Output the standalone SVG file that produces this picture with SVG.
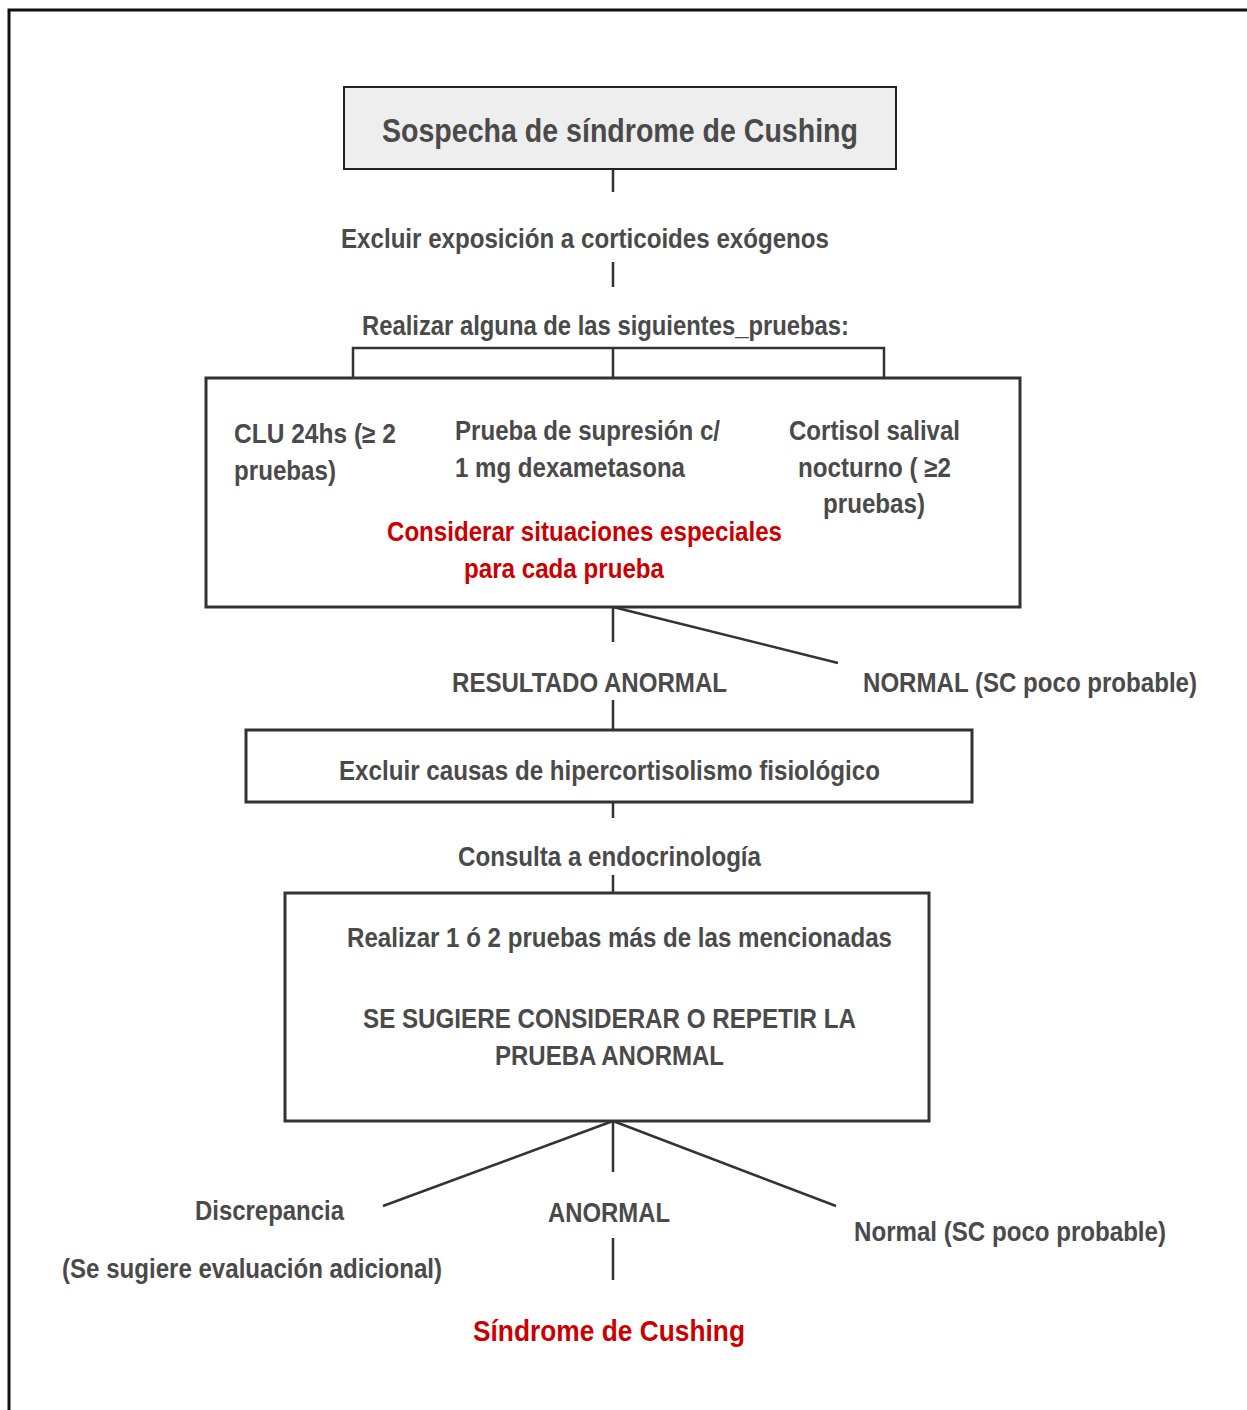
<svg xmlns="http://www.w3.org/2000/svg" width="1247" height="1410" viewBox="0 0 1247 1410">
<style>
text{font-family:"Liberation Sans",Arial,sans-serif;fill:#4a4a4a;font-weight:bold}
.t{font-size:27px}
.r{fill:#cc0000}
.box{fill:#fff;stroke:#333;stroke-width:3}
.ln{stroke:#333;stroke-width:2.5;fill:none}
</style>
<rect x="0" y="0" width="1247" height="1410" fill="#fff"/>
<path d="M9,1410 V10 H1247" fill="none" stroke="#111" stroke-width="3"/>
<g id="connectors">
<line class="ln" x1="613" y1="169" x2="613" y2="192"/>
<line class="ln" x1="613" y1="262" x2="613" y2="287"/>
<path class="ln" d="M353,378 V348 H884 V378 M613,348 V378"/>
<line class="ln" x1="613" y1="607" x2="613" y2="642"/>
<line class="ln" x1="613" y1="607" x2="838" y2="663" stroke-width="3"/>
<line class="ln" x1="613" y1="700" x2="613" y2="730"/>
<line class="ln" x1="613" y1="802" x2="613" y2="818"/>
<line class="ln" x1="613" y1="875" x2="613" y2="893"/>
<line class="ln" x1="613" y1="1121" x2="383" y2="1206" stroke-width="3"/>
<line class="ln" x1="613" y1="1121" x2="613" y2="1172"/>
<line class="ln" x1="613" y1="1121" x2="836" y2="1206" stroke-width="3"/>
<line class="ln" x1="613" y1="1238" x2="613" y2="1280"/>
</g>
<g id="n1">
<rect x="344" y="87" width="552" height="82" fill="#eeeeee" stroke="#222" stroke-width="2"/>
<text x="382" y="142" font-size="34" textLength="476" lengthAdjust="spacingAndGlyphs">Sospecha de síndrome de Cushing</text>
</g>
<g id="n2"><text class="t" x="341" y="248" textLength="488" lengthAdjust="spacingAndGlyphs">Excluir exposición a corticoides exógenos</text></g>
<g id="n3"><text class="t" x="362" y="335" textLength="487" lengthAdjust="spacingAndGlyphs">Realizar alguna de las siguientes_pruebas:</text></g>
<g id="n4">
<rect class="box" x="206" y="378" width="814" height="229"/>
<text class="t" x="234" y="443" textLength="162" lengthAdjust="spacingAndGlyphs">CLU 24hs (≥ 2</text>
<text class="t" x="234" y="480" textLength="102" lengthAdjust="spacingAndGlyphs">pruebas)</text>
<text class="t" x="455" y="440" textLength="265" lengthAdjust="spacingAndGlyphs">Prueba de supresión c/</text>
<text class="t" x="455" y="477" textLength="230" lengthAdjust="spacingAndGlyphs">1 mg dexametasona</text>
<text class="t" x="789" y="440" textLength="171" lengthAdjust="spacingAndGlyphs">Cortisol salival</text>
<text class="t" x="798" y="477" textLength="153" lengthAdjust="spacingAndGlyphs">nocturno ( ≥2</text>
<text class="t" x="823" y="513" textLength="102" lengthAdjust="spacingAndGlyphs">pruebas)</text>
<text class="t r" x="387" y="541" textLength="395" lengthAdjust="spacingAndGlyphs">Considerar situaciones especiales</text>
<text class="t r" x="464" y="578" textLength="200" lengthAdjust="spacingAndGlyphs">para cada prueba</text>
</g>
<g id="n5"><text class="t" x="452" y="692" textLength="275" lengthAdjust="spacingAndGlyphs">RESULTADO ANORMAL</text></g>
<g id="n6"><text class="t" x="863" y="692" textLength="334" lengthAdjust="spacingAndGlyphs">NORMAL (SC poco probable)</text></g>
<g id="n7">
<rect class="box" x="246" y="730" width="726" height="72"/>
<text class="t" x="339" y="780" textLength="541" lengthAdjust="spacingAndGlyphs">Excluir causas de hipercortisolismo fisiológico</text>
</g>
<g id="n8"><text class="t" x="458" y="866" textLength="303" lengthAdjust="spacingAndGlyphs">Consulta a endocrinología</text></g>
<g id="n9">
<rect class="box" x="285" y="893" width="644" height="228"/>
<text class="t" x="347" y="947" textLength="545" lengthAdjust="spacingAndGlyphs">Realizar 1 ó 2 pruebas más de las mencionadas</text>
<text class="t" x="363" y="1028" textLength="493" lengthAdjust="spacingAndGlyphs">SE SUGIERE CONSIDERAR O REPETIR LA</text>
<text class="t" x="495" y="1065" textLength="229" lengthAdjust="spacingAndGlyphs">PRUEBA ANORMAL</text>
</g>
<g id="n10"><text class="t" x="195" y="1220" textLength="149" lengthAdjust="spacingAndGlyphs">Discrepancia</text>
<text class="t" x="62" y="1278" textLength="380" lengthAdjust="spacingAndGlyphs">(Se sugiere evaluación adicional)</text></g>
<g id="n11"><text class="t" x="548" y="1222" textLength="122" lengthAdjust="spacingAndGlyphs">ANORMAL</text></g>
<g id="n12"><text class="t" x="854" y="1241" textLength="312" lengthAdjust="spacingAndGlyphs">Normal (SC poco probable)</text></g>
<g id="n13"><text class="r" x="473" y="1341" font-size="30" textLength="272" lengthAdjust="spacingAndGlyphs">Síndrome de Cushing</text></g>
</svg>
